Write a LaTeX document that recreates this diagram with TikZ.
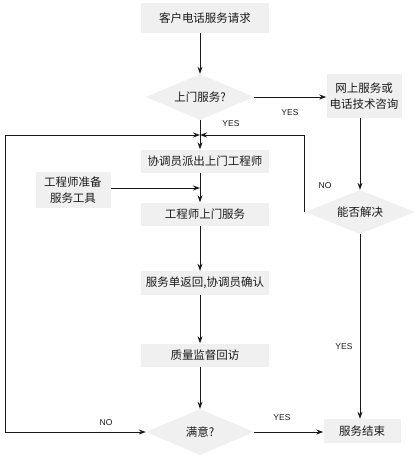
\documentclass[tikz,border=0pt]{standalone}
\usepackage{fontspec}
\setmainfont{Liberation Sans}
\newfontfamily\cjk{Noto Sans CJK SC}
\usetikzlibrary{shapes.geometric,arrows.meta}
\definecolor{boxgray}{HTML}{F0F0F0}
\definecolor{ink}{HTML}{1A1A1A}
\tikzset{
  x=1pt,y=-1pt,
  stepbox/.style={fill=boxgray,draw=none,inner sep=0pt,align=center,text=ink,font=\cjk\fontsize{11.5}{16}\selectfont},
  decide/.style={diamond,fill=boxgray,draw=none,inner sep=0pt,aspect=2.35,text=ink,font=\cjk\fontsize{11.5}{14}\selectfont},
  flow/.style={line width=0.9pt,draw=ink,-{Stealth[length=7pt,width=5pt]}},
  lbl/.style={font=\fontsize{8.5}{10}\selectfont,text=ink,inner sep=0pt}
}
\begin{document}
\begin{tikzpicture}
\useasboundingbox (0,0) rectangle (420,459);
\node[stepbox,minimum width=128pt,minimum height=30pt] (b1) at (205,18) {客户电话服务请求};
\node[decide,minimum width=108pt,minimum height=46pt] (d1) at (200,97) {上门服务?};
\node[stepbox,minimum width=75pt,minimum height=44pt] (b2) at (364,96) {网上服务或\\电话技术咨询};
\node[decide,minimum width=110pt,minimum height=44pt] (d2) at (360,212) {能否解决};
\node[stepbox,minimum width=128pt,minimum height=23pt] (b3) at (205,161) {协调员派出上门工程师};
\node[stepbox,minimum width=75pt,minimum height=36pt] (b4) at (73,190) {工程师准备\\服务工具};
\node[stepbox,minimum width=128pt,minimum height=23pt] (b5) at (205,214) {工程师上门服务};
\node[stepbox,minimum width=128pt,minimum height=24pt] (b6) at (205,283) {服务单返回,协调员确认};
\node[stepbox,minimum width=128pt,minimum height=23pt] (b7) at (205,355) {质量监督回访};
\node[decide,minimum width=108pt,minimum height=46pt] (d3) at (200,432) {满意?};
\node[stepbox,minimum width=77pt,minimum height=24pt] (b8) at (362,431) {服务结束};
\coordinate (j) at (200,135);
\coordinate (lc) at (5,135);
\draw[flow] (d1.north |- b1.south) -- (d1.north);
\draw[flow] (d1.east) -- (d1.east -| b2.west);
\draw[flow] (d1.south) -- (d1.south |- b3.north);
\draw[flow] (d2.north |- b2.south) -- (d2.north);
\draw[flow] (d2.west) |- (j);
\draw[flow,{Stealth[length=7pt,width=5pt]}-{Stealth[length=7pt,width=5pt]}] (j) -- (lc) |- (d3.west);
\draw[flow] (b4.east |- 0,188) -- (d1.south |- 0,188);
\draw[flow] (d1.south |- b3.south) -- (d1.south |- b5.north);
\draw[flow] (d1.south |- b5.south) -- (d1.south |- b6.north);
\draw[flow] (d1.south |- b6.south) -- (d1.south |- b7.north);
\draw[flow] (d1.south |- b7.south) -- (d3.north);
\draw[flow] (d3.east) -- (d3.east -| b8.west);
\draw[flow] (d2.south) -- (d2.south |- b8.north);
\node[lbl] (l1) at (231,124) {YES};
\node[lbl] (l2) at (290,113) {YES};
\node[lbl] (l3) at (325,186) {NO};
\node[lbl] (l4) at (344,347) {YES};
\node[lbl] (l5) at (282,418) {YES};
\node[lbl] (l6) at (106,423) {NO};
\end{tikzpicture}
\end{document}
